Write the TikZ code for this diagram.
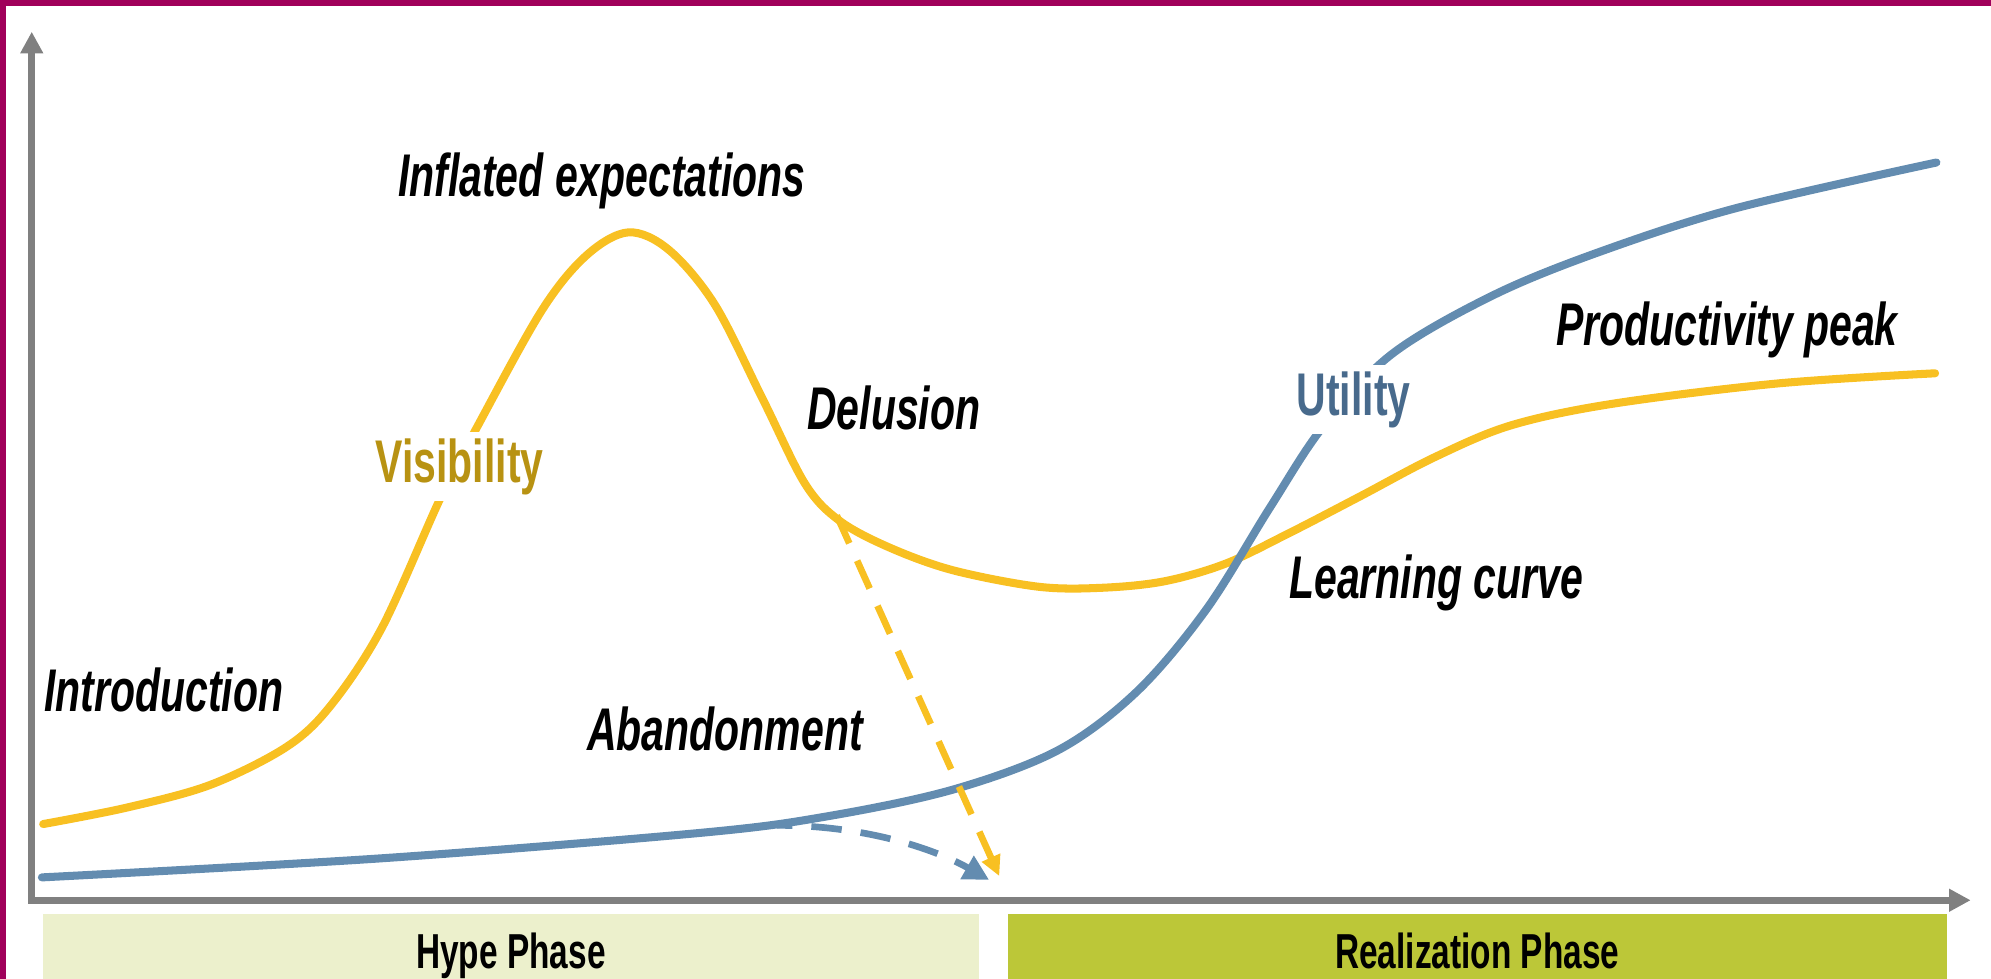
\documentclass[tikz,border=0pt]{standalone}
\usepackage{fontspec}
\setmainfont{Liberation Sans}[FakeStretch=0.68]
\usetikzlibrary{arrows.meta}
\definecolor{framemag}{RGB}{160,0,90}
\definecolor{axisgray}{RGB}{128,128,128}
\definecolor{hypeyellow}{RGB}{248,192,34}
\definecolor{hypeblue}{RGB}{99,140,176}
\definecolor{visgold}{RGB}{184,146,18}
\definecolor{utilblue}{RGB}{72,106,140}
\definecolor{hypefill}{RGB}{236,240,204}
\definecolor{realfill}{RGB}{188,199,56}
\tikzset{
	axis/.style={axisgray, line width=1.56pt},
	curve/.style={line width=1.8pt, line cap=round},
	drop/.style={line width=1.5pt, dash pattern=on 0.24cm off 0.15cm},
	phase/.style={anchor=north west, minimum height=0.52cm, inner sep=0pt,
			text height=0.34cm, text depth=0pt, font=\bfseries\fontsize{11}{13}\selectfont},
	lbl/.style={anchor=base, inner sep=0.05cm, font=\bfseries\itshape\fontsize{13.5}{16}\selectfont},
	tag/.style={anchor=base, inner sep=0.05cm, fill=white, font=\bfseries\fontsize{13.5}{16}\selectfont}
}
\tikzset{>={Triangle[length=0.17cm,width=0.17cm]}}
\begin{document}
\begin{tikzpicture}[x=0.01cm, y=-0.01cm]

	\useasboundingbox (0,0) rectangle (1568,771);
	\fill[framemag] (0,0) rectangle (1568,5);
	\fill[framemag] (0,0) rectangle (5,771);

	\coordinate (top) at (25,25);
	\coordinate (right) at (1552,709);
	\draw[axis,<->] (top) |- (right);

	\node[phase, fill=hypefill, minimum width=7.37cm] (hype) at (33,719) {Hype Phase};
	\node[phase, fill=realfill, minimum width=7.39cm] (real) at (793,719) {Realization Phase};

	\draw[curve, hypeyellow] plot[smooth, tension=0.55] coordinates {
		(34,649) (100,636) (166,618) (226,588) (261,555) (301,494) (347,392) (377,334)
		(427,244) (462,201) (495,183) (527,197) (563,240) (601,315) (634,381) (661,410)
		(700,431) (750,449) (817,462) (866,463) (916,458) (965,444) (1015,420) (1071,391)
		(1130,360) (1190,335) (1270,318) (1400,302) (1524,294)};
	\draw[curve, hypeblue] plot[smooth, tension=0.55] coordinates {
		(33,691) (300,676) (551,656) (651,643) (750,622) (833,591) (895,545) (950,480)
		(1000,400) (1042,336) (1096,279) (1175,233) (1258,199) (1367,164) (1525,128)};

	\coordinate (yfork) at (659,406);
	\coordinate (ydrop) at (787,690);
	\coordinate (bfork) at (612,650);
	\coordinate (bdrop) at (779,693);
	\draw[drop, hypeyellow, -{Triangle[length=0.16cm,width=0.15cm]}] (yfork) -- (ydrop);
	\draw[drop, hypeblue, dash phase=0.12cm, -{Triangle[length=0.2cm,width=0.2cm]}] (bfork) .. controls (680,650) and (735,668) .. (bdrop);

	\node[lbl] (infl) at (474,155) {Inflated expectations};
	\node[tag, text=visgold] (vis) at (362,380) {Visibility};
	\node[lbl] (delu) at (704,338) {Delusion};
	\node[lbl] (intro) at (129,560) {Introduction};
	\node[lbl] (aband) at (571,591) {Abandonment};
	\node[tag, text=utilblue] (util) at (1066,327) {Utility};
	\node[lbl] (prod) at (1360,272) {Productivity peak};
	\node[lbl] (learn) at (1131,471) {Learning curve};
\end{tikzpicture}
\end{document}
